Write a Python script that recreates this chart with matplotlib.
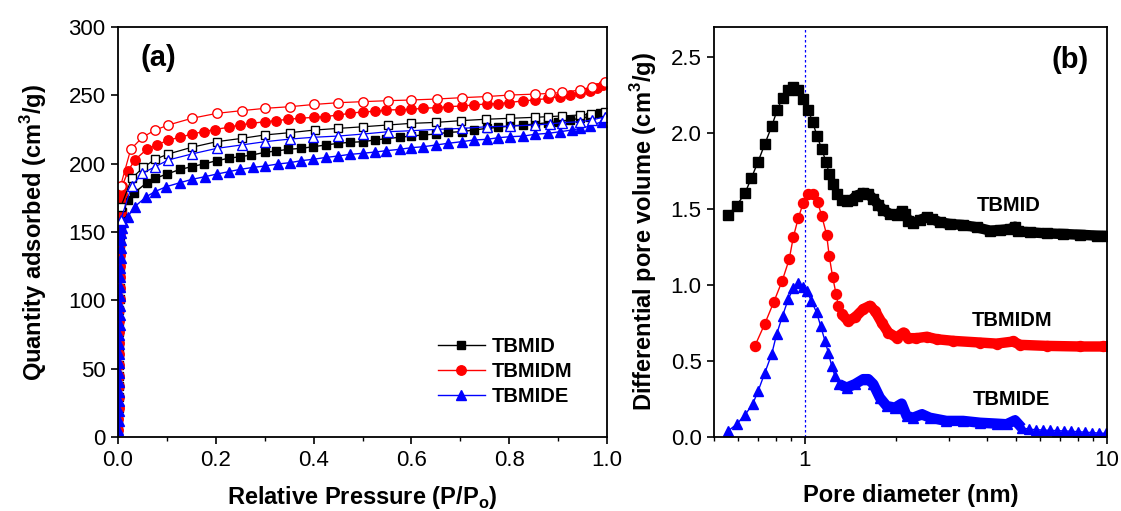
import numpy as np
import matplotlib
matplotlib.use("Agg")
import matplotlib.pyplot as plt
from matplotlib.ticker import MultipleLocator, FixedLocator, FixedFormatter, NullFormatter, LogLocator

plt.rcParams['font.family'] = ['Liberation Sans', 'DejaVu Sans']
plt.rcParams['mathtext.fontset'] = 'custom'
plt.rcParams['mathtext.rm'] = 'Liberation Sans'
plt.rcParams['mathtext.bf'] = 'Liberation Sans:bold'

# ---------------- (a) N2 isotherms ----------------
series_names = ["TBMID", "TBMIDM", "TBMIDE"]

p_tbmid_ads = [0.0008, 0.0010, 0.0012, 0.0014, 0.0016, 0.0018, 0.0020, 0.0022, 0.0024, 0.0026,
               0.0028, 0.0030, 0.0032, 0.0034, 0.0036, 0.0039, 0.0042, 0.0046, 0.0050, 0.0056,
               0.0065, 0.0075,
               0.021, 0.032, 0.059, 0.076, 0.100, 0.127, 0.151, 0.175, 0.202, 0.226, 0.249, 0.273,
               0.301, 0.324, 0.348, 0.375, 0.399, 0.426, 0.450, 0.474, 0.501, 0.525, 0.549, 0.576,
               0.600, 0.624, 0.651, 0.675, 0.703, 0.727, 0.754, 0.778, 0.801, 0.829, 0.853, 0.880,
               0.900, 0.924, 0.945, 0.965, 0.986]
q_tbmid_ads = [5, 13, 21, 29, 37, 45, 53, 61, 69, 77,
               85, 93, 101, 109, 117, 125, 133, 141, 148, 155,
               160, 165,
               173.4, 178.3, 186.1, 189.3, 192.4, 195.8, 197.8, 199.8, 202.2, 203.9, 205.1, 206.3,
               208.3, 209.3, 210.5, 211.2, 212.4, 213.7, 214.9, 215.6, 216.1, 217.3, 218.3, 219.3,
               220.2, 221.0, 221.7, 222.9, 223.4, 224.6, 225.8, 226.6, 227.5, 228.3, 229.0, 230.0,
               230.7, 231.9, 233.2, 234.4, 236.8]
p_tbmid_des = [0.0055, 0.028, 0.052, 0.076, 0.103, 0.151, 0.202, 0.253, 0.300, 0.352, 0.402, 0.450,
               0.501, 0.552, 0.600, 0.651, 0.702, 0.753, 0.801, 0.852, 0.879, 0.907, 0.944, 0.968, 0.996]
q_tbmid_des = [168.0, 189.3, 197.3, 203.2, 207.1, 212.0, 216.1, 218.5, 221.0, 222.7, 224.6, 225.8,
               227.0, 228.3, 229.5, 230.2, 231.5, 232.5, 233.2, 233.9, 234.4, 234.9, 235.6, 236.1, 238.0]

p_tbmidm_ads = [0.0008, 0.0010, 0.0012, 0.0014, 0.0016, 0.0018, 0.0020, 0.0022, 0.0024, 0.0026,
                0.0028, 0.0030, 0.0032, 0.0034, 0.0036, 0.0038, 0.0040, 0.0043, 0.0046, 0.0050,
                0.0055, 0.0062, 0.0072, 0.0090,
                0.021, 0.035, 0.059, 0.079, 0.103, 0.127, 0.151, 0.175, 0.198, 0.226, 0.249, 0.273,
                0.301, 0.324, 0.348, 0.372, 0.400, 0.423, 0.450, 0.474, 0.502, 0.526, 0.549, 0.577,
                0.600, 0.624, 0.652, 0.675, 0.703, 0.727, 0.754, 0.778, 0.800, 0.829, 0.853, 0.880,
                0.904, 0.924, 0.945, 0.965, 0.979, 0.992]
q_tbmidm_ads = [5, 13, 21, 29, 37, 45, 53, 61, 69, 77,
                85, 93, 101, 109, 117, 125, 133, 141, 149, 157,
                165, 172, 178, 184,
                195.0, 203.0, 210.5, 213.6, 217.3, 219.3, 221.7, 223.4, 225.0, 226.6, 228.3, 229.5,
                230.7, 231.5, 232.5, 233.2, 233.9, 234.4, 235.6, 236.8, 238.0, 238.2, 239.3, 239.5,
                239.8, 240.5, 241.0, 241.7, 242.2, 242.9, 243.7, 244.0, 244.7, 246.0, 246.6, 247.8,
                249.0, 250.2, 251.4, 253.4, 255.2, 257.6]
p_tbmidm_des = [0.0055, 0.026, 0.050, 0.076, 0.103, 0.151, 0.202, 0.253, 0.301, 0.352, 0.400, 0.450,
                0.502, 0.553, 0.600, 0.652, 0.703, 0.754, 0.800, 0.853, 0.883, 0.907, 0.945, 0.969, 0.996]
q_tbmidm_des = [184.0, 210.5, 219.3, 224.6, 228.3, 233.2, 236.8, 238.8, 240.5, 241.7, 243.3, 244.6,
                245.4, 246.1, 246.6, 247.3, 248.3, 249.1, 250.2, 250.9, 251.4, 252.1, 253.9, 256.3, 260.0]

p_tbmide_ads = [0.0010, 0.0012, 0.0014, 0.0016, 0.0018, 0.0020, 0.0022, 0.0024, 0.0026, 0.0028,
                0.0030, 0.0032, 0.0034, 0.0036, 0.0039, 0.0042, 0.0045, 0.0048, 0.0052, 0.0056,
                0.0062, 0.0070, 0.0085, 0.011,
                0.020, 0.034, 0.058, 0.075, 0.099, 0.127, 0.151, 0.178, 0.202, 0.226, 0.249, 0.277,
                0.301, 0.328, 0.351, 0.375, 0.399, 0.426, 0.450, 0.474, 0.501, 0.525, 0.549, 0.576,
                0.600, 0.624, 0.651, 0.675, 0.703, 0.727, 0.754, 0.778, 0.801, 0.829, 0.853, 0.880,
                0.904, 0.928, 0.945, 0.965, 0.989]
q_tbmide_ads = [5, 12, 19, 26, 33, 40, 47, 54, 61, 68,
                75, 82, 89, 96, 103, 110, 117, 124, 131, 138,
                144, 149, 153, 157,
                161.2, 168.5, 175.8, 179.5, 183.2, 186.1, 188.5, 190.5, 192.4, 194.1, 195.8, 197.3,
                198.3, 199.8, 200.7, 202.2, 203.2, 204.6, 205.6, 206.8, 207.6, 208.5, 209.5, 210.5,
                211.7, 212.4, 213.7, 214.9, 216.1, 217.3, 217.8, 219.0, 219.7, 220.2, 221.5, 222.2,
                223.4, 224.6, 225.8, 227.5, 230.7]
p_tbmide_des = [0.0055, 0.028, 0.050, 0.076, 0.103, 0.151, 0.202, 0.253, 0.301, 0.352, 0.399, 0.450,
                0.502, 0.553, 0.600, 0.652, 0.703, 0.754, 0.801, 0.853, 0.883, 0.907, 0.945, 0.969, 0.996]
q_tbmide_des = [158.8, 183.7, 192.9, 197.8, 202.7, 207.1, 211.2, 213.7, 216.1, 218.0, 219.3, 220.2,
                221.7, 223.4, 224.1, 225.1, 225.8, 227.0, 227.5, 228.3, 229.0, 230.0, 230.7, 231.9, 234.4]

# ---------------- (b) pore size distributions ----------------
d_tbmid = [0.557, 0.594, 0.633, 0.665, 0.700, 0.737, 0.776, 0.810, 0.843, 0.881, 0.915, 0.950,
           0.987, 1.026, 1.060, 1.099, 1.135, 1.174, 1.203, 1.235, 1.273, 1.323, 1.374, 1.428,
           1.483, 1.560, 1.621, 1.684, 1.749, 1.817, 1.910, 2.010, 2.090, 2.140, 2.200, 2.280,
           2.400, 2.530, 2.630, 2.800, 3.020, 3.340, 3.700, 4.100, 4.430, 4.780, 4.960, 5.090,
           5.560, 6.310, 7.170, 8.140, 9.250, 10.0]
v_tbmid = [1.464, 1.524, 1.605, 1.706, 1.814, 1.931, 2.045, 2.155, 2.234, 2.282, 2.304, 2.287,
           2.228, 2.155, 2.073, 1.979, 1.898, 1.814, 1.733, 1.667, 1.601, 1.561, 1.552, 1.561,
           1.590, 1.607, 1.601, 1.568, 1.530, 1.495, 1.469, 1.464, 1.486, 1.469, 1.425, 1.409,
           1.429, 1.447, 1.436, 1.414, 1.403, 1.396, 1.381, 1.359, 1.363, 1.370, 1.385, 1.354,
           1.348, 1.341, 1.337, 1.332, 1.326, 1.324]

d_tbmidm = [0.683, 0.737, 0.789, 0.841, 0.887, 0.915, 0.950, 0.987, 1.026, 1.065, 1.102, 1.136,
            1.180, 1.203, 1.235, 1.267, 1.290, 1.322, 1.391, 1.464, 1.560, 1.640, 1.706, 1.795,
            1.888, 2.010, 2.120, 2.200, 2.340, 2.530, 2.730, 3.100, 3.800, 4.310, 4.900, 5.150,
            6.310, 8.140, 9.720, 10.0]
v_tbmidm = [0.600, 0.747, 0.890, 1.029, 1.170, 1.315, 1.440, 1.541, 1.601, 1.601, 1.546, 1.458,
            1.332, 1.194, 1.055, 0.945, 0.864, 0.809, 0.765, 0.787, 0.842, 0.864, 0.831, 0.754,
            0.688, 0.655, 0.688, 0.651, 0.651, 0.660, 0.644, 0.633, 0.622, 0.615, 0.629, 0.607,
            0.600, 0.596, 0.596, 0.596]

d_tbmide = [0.557, 0.594, 0.633, 0.671, 0.700, 0.737, 0.776, 0.806, 0.843, 0.881, 0.915, 0.950,
            0.987, 1.013, 1.050, 1.093, 1.127, 1.165, 1.195, 1.226, 1.257, 1.299, 1.374, 1.464,
            1.560, 1.621, 1.684, 1.770, 1.865, 1.986, 2.090, 2.170, 2.280, 2.440, 2.590, 2.940,
            3.340, 3.800, 4.310, 4.650, 4.960, 5.220, 5.510, 5.810, 6.130, 6.470, 6.830, 7.200,
            7.600, 8.020, 8.460, 8.930, 9.420, 9.940]
v_tbmide = [0.040, 0.084, 0.145, 0.216, 0.303, 0.424, 0.545, 0.677, 0.798, 0.908, 0.981, 1.011,
            0.985, 0.963, 0.897, 0.820, 0.732, 0.633, 0.556, 0.468, 0.402, 0.348, 0.325, 0.348,
            0.381, 0.381, 0.348, 0.259, 0.204, 0.193, 0.220, 0.139, 0.127, 0.150, 0.127, 0.106,
            0.106, 0.094, 0.088, 0.084, 0.110, 0.061, 0.052, 0.048, 0.046, 0.044, 0.042, 0.040,
            0.038, 0.035, 0.032, 0.029, 0.026, 0.024]

# annotation labels for panel (b): (text, pore diameter, volume)
psd_labels = [("TBMID", 3.71, 1.524), ("TBMIDM", 3.57, 0.765), ("TBMIDE", 3.60, 0.25)]

# ---------------- figure ----------------
W, H = 1121, 511
fig = plt.figure(figsize=(W / 100, H / 100), dpi=100)
axA = fig.add_axes([118 / W, (H - 437) / H, (607 - 118) / W, 410 / H])
axB = fig.add_axes([714 / W, (H - 437) / H, (1107 - 714) / W, 410 / H])

colors = ["black", "red", "blue"]
markers = ["s", "o", "^"]
msz = [6.0, 6.8, 7.0]

ads = [(p_tbmid_ads, q_tbmid_ads), (p_tbmidm_ads, q_tbmidm_ads), (p_tbmide_ads, q_tbmide_ads)]
des = [(p_tbmid_des, q_tbmid_des), (p_tbmidm_des, q_tbmidm_des), (p_tbmide_des, q_tbmide_des)]

handles = []
for (p, q), c, m, s, name in zip(ads, colors, markers, msz, series_names):
    h, = axA.plot(p, q, color=c, marker=m, ms=s, lw=1.0, mec=c, mfc=c, label=name)
    handles.append(h)
for (p, q), c, m, s in zip(des, colors, markers, msz):
    axA.plot(p, q, color=c, marker=m, ms=s, lw=0.9, mec=c, mfc="white", mew=1.0)

axA.set_xlim(0, 1.0)
axA.set_ylim(0, 300)
axA.xaxis.set_major_locator(MultipleLocator(0.2))
axA.xaxis.set_minor_locator(MultipleLocator(0.1))
axA.yaxis.set_major_locator(MultipleLocator(50))
axA.xaxis.set_major_formatter(matplotlib.ticker.FormatStrFormatter("%.1f"))
axA.set_xlabel(r"Relative Pressure (P/P$_\mathbf{o}$)", fontsize=17, fontweight="bold", labelpad=10)
axA.set_ylabel(r"Quantity adsorbed (cm$^\mathbf{3}$/g)", fontsize=17, fontweight="bold", labelpad=14)
axA.text(0.045, 0.905, "(a)", transform=axA.transAxes, fontsize=21, fontweight="bold")

leg = axA.legend(handles=handles, loc="upper left", bbox_to_anchor=(0.655, 0.245), frameon=False,
                 prop={"weight": "bold", "size": 14.5}, handlelength=2.3,
                 handletextpad=0.35, labelspacing=0.3, borderpad=0, borderaxespad=0, numpoints=1)

# (b)
ps = [(d_tbmid, v_tbmid, 1.30), (d_tbmidm, v_tbmidm, 1.30), (d_tbmide, v_tbmide, 1.29)]
msz_b = [7.0, 7.2, 7.8]
for (d, v, dcut), c, m, s in zip(ps, colors, markers, msz_b):
    d = np.asarray(d)
    v = np.asarray(v)
    axB.plot(d, v, color=c, marker=m, ms=s, lw=1.0, mec=c, mfc=c)
    sel = d >= dcut
    if c == "blue":
        sel = sel & (d <= 5.25)
    axB.plot(d[sel], v[sel], color=c, lw=7.5, solid_joinstyle="round", solid_capstyle="butt")

axB.axvline(1.0, color="blue", lw=0.9, ls=(0, (2, 2)), zorder=0.5)
axB.set_xscale("log")
axB.set_xlim(0.5, 10)
axB.set_ylim(0, 2.7)
axB.xaxis.set_major_locator(FixedLocator([1, 10]))
axB.xaxis.set_major_formatter(FixedFormatter(["1", "10"]))
axB.xaxis.set_minor_locator(LogLocator(base=10, subs=np.arange(2, 10), numticks=20))
axB.xaxis.set_minor_formatter(NullFormatter())
axB.yaxis.set_major_locator(MultipleLocator(0.5))
axB.yaxis.set_major_formatter(matplotlib.ticker.FormatStrFormatter("%.1f"))
axB.set_xlabel("Pore diameter (nm)", fontsize=17, fontweight="bold", labelpad=10)
axB.set_ylabel(r"Differential pore volume (cm$^\mathbf{3}$/g)", fontsize=17, fontweight="bold", labelpad=8)
axB.text(0.86, 0.9, "(b)", transform=axB.transAxes, fontsize=21, fontweight="bold")
for txt, dx, vy in psd_labels:
    axB.text(dx, vy, txt, fontsize=14.5, fontweight="bold", ha="left", va="center")

for ax in (axA, axB):
    for sp in ax.spines.values():
        sp.set_linewidth(1.3)
    ax.tick_params(which="major", direction="out", length=5, width=1.2, labelsize=16, pad=4)
    ax.tick_params(which="minor", direction="out", length=3, width=1.0)

fig.savefig("out.png", dpi=100)
